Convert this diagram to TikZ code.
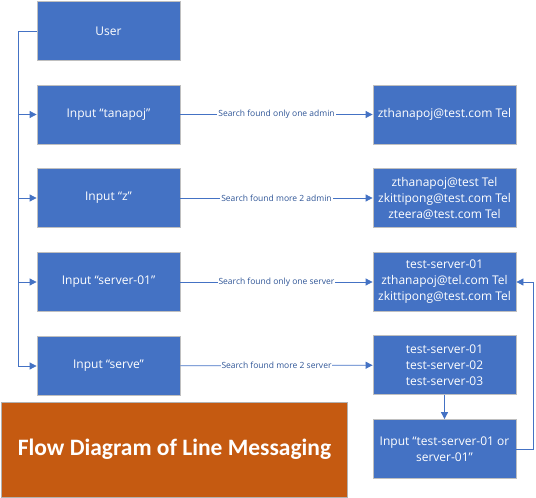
\documentclass[tikz,border=0pt]{standalone}
\usepackage{fontspec}
\setmainfont{Open Sans}
\newfontfamily\titlefont{Carlito}
\usetikzlibrary{arrows.meta}
\definecolor{boxblue}{HTML}{4472C4}
\definecolor{lineblue}{HTML}{4472C4}
\definecolor{txtblue}{HTML}{2F5597}
\definecolor{rust}{HTML}{C55A11}
\tikzset{
	box/.style={draw=black!25,line width=0.8pt,fill=boxblue,text=white,minimum width=143pt,minimum height=59pt,align=center,inner sep=2pt,font=\fontsize{12}{16}\selectfont},
	conn/.style={draw=lineblue,line width=0.8pt},
	arr/.style={conn,-{Triangle[length=7pt,width=7pt]}},
	lbl/.style={midway,fill=white,inner sep=1pt,text=txtblue,font=\fontsize{8.5}{10}\selectfont}
}
\begin{document}
\begin{tikzpicture}[x=1pt,y=-1pt]
	\useasboundingbox (0,0) rectangle (536,498);
	% left column
	\node[box] (user) at (108.5,31) {User};
	\node[box] (intanapoj) at (108.5,114.5) {Input “tanapoj”};
	\node[box] (inz) at (108.5,198) {Input “z”};
	\node[box] (inserver) at (108.5,282) {Input “server-01”};
	\node[box] (inserve) at (108.5,366) {Input “serve”};
	% right column
	\node[box] (resadmin) at (444.5,114.5) {zthanapoj@test.com Tel};
	\node[box] (resadmins) at (444.5,198) {zthanapoj@test Tel\\zkittipong@test.com Tel\\zteera@test.com Tel};
	\node[box] (resserver) at (444.5,282) {test-server-01\\zthanapoj@tel.com Tel\\zkittipong@test.com Tel};
	\node[box] (resservers) at (444.5,365) {test-server-01\\test-server-02\\test-server-03};
	\node[box] (pick) at (444.5,449) {Input “test-server-01 or\\server-01”};
	% title
	\node[draw=black!30,line width=0.8pt,fill=rust,text=white,minimum width=346pt,minimum height=95pt,font=\titlefont\bfseries\fontsize{23.5}{26}\selectfont] (title) at (174.5,449.5) {Flow Diagram of Line Messaging};
	% trunk on the left
	\coordinate (trunk) at (18,31);
	\draw[arr] (user.west) -- (trunk) |- (inserve.west);
	\foreach \n in {intanapoj,inz,inserver}
		\draw[arr] (trunk |- \n.west) -- (\n.west);
	% searches
	\draw[arr] (intanapoj) -- (resadmin) node[lbl] {Search found only one admin};
	\draw[arr] (inz) -- (resadmins) node[lbl] {Search found more 2 admin};
	\draw[arr] (inserver) -- (resserver) node[lbl] {Search found only one server};
	\draw[arr] (inserve) -- (resservers) node[lbl] {Search found more 2 server};
	% choose one server
	\draw[arr] (resservers) -- (pick);
	\draw[arr] (pick.east) -- ++(17,0) |- (resserver.east);
\end{tikzpicture}
\end{document}
